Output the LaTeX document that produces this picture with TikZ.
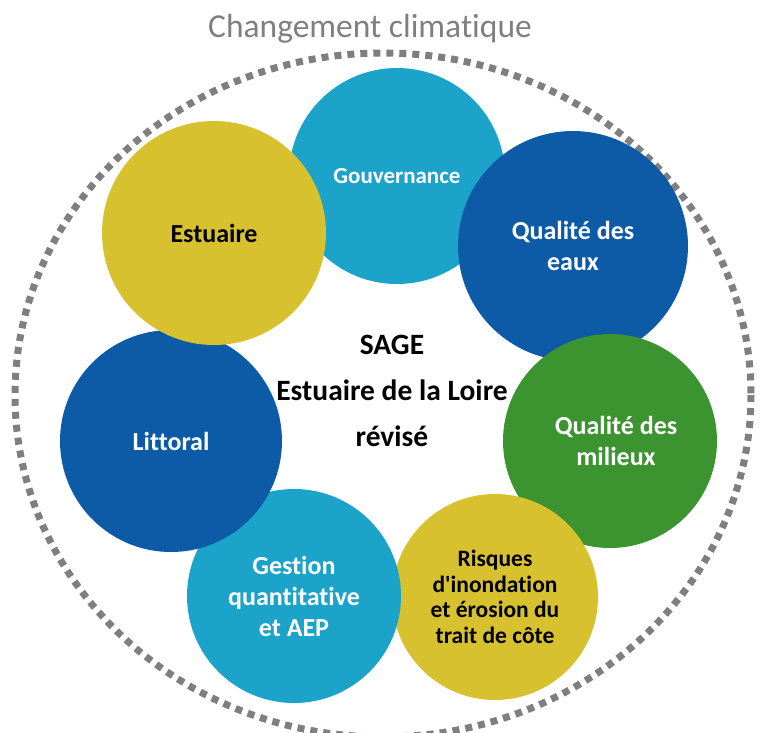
\documentclass[tikz,border=0pt]{standalone}
\usepackage{fontspec}
\setmainfont{Carlito}[Ligatures=NoCommon]
\usetikzlibrary{positioning, shapes}

\definecolor{sageteal}{HTML}{1CA3C9}
\definecolor{sageblue}{HTML}{0D5BA6}
\definecolor{sagegreen}{HTML}{3B942F}
\definecolor{sageyellow}{HTML}{D8C12F}
\definecolor{sagegray}{HTML}{7F7F7F}

\tikzset{
  theme/.style={circle, inner sep=0pt, align=center, text=white,
    font=\bfseries\fontsize{26}{31}\selectfont},
  ring/.style={sagegray, line width=7pt, dash pattern=on 7pt off 6pt}
}

\begin{document}
\begin{tikzpicture}[x=1pt,y=-1pt]
        \useasboundingbox (0,0) rectangle (764,732);
        \node[text=sagegray, font=\fontsize{33.5}{40}\selectfont] (titre) at (370,29) {Changement climatique};
        \draw[ring] (383,395) ellipse [x radius=368, y radius=342];
%
        \node[theme, fill=sageteal, minimum size=216pt, font=\bfseries\fontsize{23}{28}\selectfont] (gouv) at (397,176) {Gouvernance};
        \node[theme, fill=sageblue, minimum size=230pt] (eaux) at (573,246) {Qualité des\\eaux};
        \node[theme, fill=sagegreen, minimum size=214pt] (milieux) at (610,441) {\hspace*{12pt}Qualité des\\\hspace*{12pt}milieux};
        \node[theme, fill=sageyellow, minimum size=206pt, text=black, font=\bfseries\fontsize{23.5}{25.5}\selectfont] (risques) at (495,597) {Risques\\d\textquotesingle inondation\\et érosion du\\trait de côte};
        \node[theme, fill=sageteal, minimum size=214pt] (gestion) at (294,596) {Gestion\\quantitative\\et AEP};
        \node[theme, fill=sageblue, minimum size=222pt] (littoral) at (171,441) {Littoral};
        \node[theme, fill=sageyellow, minimum size=224pt, text=black] (estuaire) at (214,233) {Estuaire};
%
        \node[align=center, font=\bfseries\fontsize{29.5}{46}\selectfont] (sage) at (392,391) {SAGE\\Estuaire de la Loire\\révisé};
\end{tikzpicture}
\end{document}
